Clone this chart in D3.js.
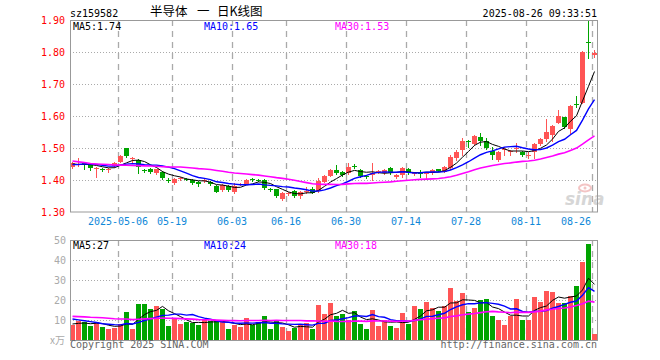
<!DOCTYPE html>
<html>
<head>
<meta charset="utf-8">
<script src="https://cdn.jsdelivr.net/npm/d3@7"></script>
<style>
body { margin: 0; background: #fff; }
text { font-family: "DejaVu Sans Mono", "Liberation Mono", monospace; font-size: 10px; }
</style>
</head>
<body>
<script>
var W = 660, H = 360,
	left = 70, right = 598,
	pTop = 20, pBottom = 212,
	vTop = 240, vBottom = 340;

// trading days shown (MM-DD), 2025
var dates = [
	'04-21','04-22','04-23','04-24','04-25','04-28','04-29','04-30',
	'05-06','05-07','05-08','05-09',
	'05-12','05-13','05-14','05-15','05-16',
	'05-19','05-20','05-21','05-22','05-23',
	'05-26','05-27','05-28','05-29','05-30',
	'06-03','06-04','06-05','06-06',
	'06-09','06-10','06-11','06-12','06-13',
	'06-16','06-17','06-18','06-19','06-20',
	'06-23','06-24','06-25','06-26','06-27',
	'06-30','07-01','07-02','07-03','07-04',
	'07-07','07-08','07-09','07-10','07-11',
	'07-14','07-15','07-16','07-17','07-18',
	'07-21','07-22','07-23','07-24','07-25',
	'07-28','07-29','07-30','07-31','08-01',
	'08-04','08-05','08-06','08-07','08-08',
	'08-11','08-12','08-13','08-14','08-15',
	'08-18','08-19','08-20','08-21','08-22',
	'08-25','08-26'
];

var open = [
	1.440,1.449,1.452,1.447,1.435,1.434,1.432,1.444,
	1.457,1.499,1.466,1.463,
	1.431,1.433,1.423,1.426,1.401,
	1.390,1.404,1.403,1.400,1.395,
	1.397,1.395,1.381,1.368,1.381,
	1.361,1.386,1.388,1.403,
	1.401,1.400,1.372,1.371,1.340,
	1.357,1.366,1.350,1.365,1.371,
	1.366,1.395,1.413,1.431,1.426,
	1.421,1.444,1.431,1.411,1.416,
	1.424,1.423,1.436,1.410,1.416,
	1.433,1.420,1.422,1.419,1.421,
	1.433,1.426,1.436,1.468,1.494,
	1.521,1.512,1.533,1.523,1.492,
	1.462,1.494,1.489,1.497,1.489,
	1.477,1.489,1.512,1.527,1.541,
	1.579,1.596,1.558,1.638,1.642,
	1.831,1.790
];
var high = [
	1.456,1.468,1.455,1.450,1.440,1.437,1.437,1.455,
	1.477,1.501,1.471,1.466,
	1.433,1.436,1.435,1.428,1.405,
	1.405,1.408,1.406,1.402,1.398,
	1.404,1.398,1.383,1.386,1.383,
	1.390,1.390,1.402,1.406,
	1.404,1.402,1.376,1.373,1.362,
	1.362,1.368,1.366,1.379,1.379,
	1.405,1.416,1.434,1.447,1.429,
	1.452,1.449,1.434,1.414,1.452,
	1.430,1.434,1.440,1.418,1.440,
	1.436,1.425,1.431,1.425,1.434,
	1.435,1.445,1.478,1.494,1.530,
	1.525,1.540,1.546,1.530,1.504,
	1.492,1.504,1.494,1.515,1.491,
	1.489,1.515,1.530,1.590,1.572,
	1.619,1.598,1.633,1.662,1.803,
	1.900,1.806
];
var low = [
	1.437,1.444,1.433,1.431,1.410,1.428,1.426,1.442,
	1.455,1.472,1.452,1.423,
	1.424,1.421,1.420,1.403,1.395,
	1.388,1.401,1.399,1.389,1.382,
	1.395,1.383,1.362,1.365,1.367,
	1.359,1.384,1.386,1.398,
	1.396,1.372,1.366,1.348,1.338,
	1.354,1.348,1.343,1.358,1.358,
	1.364,1.393,1.411,1.419,1.414,
	1.419,1.437,1.410,1.406,1.400,
	1.421,1.420,1.419,1.406,1.408,
	1.419,1.416,1.410,1.405,1.419,
	1.427,1.424,1.433,1.462,1.478,
	1.504,1.510,1.509,1.497,1.465,
	1.459,1.478,1.478,1.489,1.476,
	1.468,1.468,1.509,1.523,1.523,
	1.577,1.561,1.546,1.627,1.640,
	1.780,1.785
];
var close = [
	1.452,1.451,1.450,1.437,1.437,1.432,1.434,1.452,
	1.475,1.475,1.469,1.440,
	1.429,1.425,1.433,1.405,1.400,
	1.403,1.406,1.402,1.391,1.386,
	1.401,1.386,1.364,1.384,1.369,
	1.381,1.388,1.400,1.401,
	1.400,1.374,1.370,1.350,1.360,
	1.359,1.350,1.364,1.367,1.360,
	1.397,1.413,1.431,1.421,1.416,
	1.442,1.440,1.413,1.410,1.423,
	1.428,1.431,1.421,1.416,1.436,
	1.421,1.422,1.420,1.423,1.431,
	1.429,1.442,1.473,1.489,1.523,
	1.519,1.537,1.523,1.499,1.478,
	1.489,1.496,1.491,1.499,1.478,
	1.479,1.512,1.527,1.551,1.569,
	1.600,1.567,1.631,1.636,1.801,
	1.829,1.798
];
// volume, x万
var vol = [
	7.5,9.7,8.8,7.2,8.8,6.7,5.5,6,
	8,14,5.5,18,
	18,15.5,17,15.5,7,
	11,8,9,8.5,7.5,
	10.5,9.5,9.5,9.5,5.5,
	7.5,6.5,11,7.5,
	9,12,5.5,9.5,6.5,
	4.5,6,7.5,8.5,5.5,
	17.5,13,18.7,12,13,
	10,14.5,8,5.5,15,
	7,10,7,6,13.5,
	8,17,15.5,19,16,
	14.5,17,26,19.5,23.5,
	14,16,20,20.5,12,
	10,7.5,12,20.5,10,
	10,21.5,19,24.5,24,
	18.5,18.5,22,27,39,
	48,3
];
// sessions before the visible window, only feed the moving averages
var priorClose = [1.53,1.52,1.53,1.47,1.46,1.46,1.50,1.49,1.48,1.49,
	1.46,1.45,1.44,1.45,1.45,1.42,1.41,1.41,1.44,1.44,
	1.45,1.43,1.44,1.45,1.46,1.46,1.45,1.44,1.45];
var priorVol = [13,12,14,12,11,13,12,12,14,16,
	13,12,11,12,12,11,12,12,12,13,
	14,13,12,13,13,8,8,9,7.5];

var priceTicks = [1.30,1.40,1.50,1.60,1.70,1.80,1.90];
var volTicks = [10,20,30,40,50];
var tickDates = ['05-06','05-19','06-03','06-16','06-30','07-14','07-28','08-11','08-26'];
var tickLabels = ['2025-05-06','05-19','06-03','06-16','06-30','07-14','07-28','08-11','08-26'];
var maPeriods = [5,10,30];
var maColors = ['#000000','#0000ff','#ff00ff'];
var maLabels = ['MA5:1.74','MA10:1.65','MA30:1.53'];
var volMaLabels = ['MA5:27','MA10:24','MA30:18'];

var red = '#ff5555', green = '#00a400';

var svg = d3.select('body').append('svg')
	.attr('width', W)
	.attr('height', H);

var x = d3.scaleBand().domain(dates).range([left, right]);
var y = d3.scaleLinear().domain([1.30, 1.90]).range([pBottom, pTop]);
var yv = d3.scaleLinear().domain([0, 50]).range([vBottom, vTop]);

function px(v) { return Math.round(v) + 0.5 }
function isUp(i) { return close[i] >= open[i] }

// grid
svg.selectAll('.hg')
	.data(priceTicks.slice(1, -1))
	.enter().append('line')
	.attr('x1', left).attr('x2', right - 1)
	.attr('y1', function(d) { return px(y(d)) })
	.attr('y2', function(d) { return px(y(d)) })
	.style('stroke', '#aaa').style('stroke-dasharray', '1,2');

svg.selectAll('.hgv')
	.data(volTicks.slice(0, -1))
	.enter().append('line')
	.attr('x1', left).attr('x2', right - 1)
	.attr('y1', function(d) { return px(yv(d)) })
	.attr('y2', function(d) { return px(yv(d)) })
	.style('stroke', '#aaa').style('stroke-dasharray', '1,2');

[[pTop, pBottom], [vTop, vBottom]].forEach(function(r) {
	svg.selectAll(null)
		.data(tickDates)
		.enter().append('line')
		.attr('x1', function(d) { return x(d) + 0.5 })
		.attr('x2', function(d) { return x(d) + 0.5 })
		.attr('y1', r[0]).attr('y2', r[1])
		.style('stroke', '#aaa').style('stroke-width', 1.3).style('stroke-dasharray', '6,5');
});

// sina watermark
var wm = svg.append('g');
wm.append('ellipse').attr('cx', 585).attr('cy', 188).attr('rx', 6).attr('ry', 3.5)
	.style('fill', 'none').style('stroke', '#f3c4c4').style('stroke-width', 2);
wm.append('circle').attr('cx', 585).attr('cy', 188).attr('r', 1.5).style('fill', '#f3c4c4');
wm.append('text').attr('x', 565).attr('y', 205)
	.style('font-family', '"DejaVu Sans", sans-serif')
	.style('font-size', '17px').style('font-weight', 'bold').style('font-style', 'italic')
	.style('fill', '#d6d6d6').text('sina');

// candles
var idx = d3.range(dates.length);
svg.selectAll('.wick')
	.data(idx)
	.enter().append('line')
	.attr('x1', function(i) { return x(dates[i]) + 2.5 })
	.attr('x2', function(i) { return x(dates[i]) + 2.5 })
	.attr('y1', function(i) { return Math.round(y(high[i])) })
	.attr('y2', function(i) { return Math.round(y(low[i])) + 1 })
	.style('stroke', function(i) { return isUp(i) ? red : green });

svg.selectAll('.body')
	.data(idx)
	.enter().append('rect')
	.attr('x', function(i) { return x(dates[i]) })
	.attr('width', 5)
	.attr('y', function(i) { return Math.round(y(Math.max(open[i], close[i]))) })
	.attr('height', function(i) {
		return Math.max(1, Math.round(y(Math.min(open[i], close[i]))) - Math.round(y(Math.max(open[i], close[i]))))
	})
	.style('fill', function(i) { return isUp(i) ? red : green });

// volume bars
svg.selectAll('.vbar')
	.data(idx)
	.enter().append('rect')
	.attr('x', function(i) { return x(dates[i]) })
	.attr('width', 5)
	.attr('y', function(i) { return Math.round(yv(vol[i])) })
	.attr('height', function(i) { return vBottom - Math.round(yv(vol[i])) + 1 })
	.style('fill', function(i) { return isUp(i) ? red : green });

// moving averages
function movingAvg(prior, vals, n) {
	var all = prior.concat(vals);
	return vals.map(function(v, i) {
		var j = i + prior.length;
		return d3.mean(all.slice(j - n + 1, j + 1));
	});
}

maPeriods.forEach(function(n, m) {
	var pm = movingAvg(priorClose, close, n);
	var vm = movingAvg(priorVol, vol, n);
	var w = [1, 1.4, 1.6][m];
	svg.append('path')
		.datum(pm)
		.attr('d', d3.line()
			.x(function(d, i) { return x(dates[i]) + 2.5 })
			.y(function(d) { return y(d) }))
		.style('fill', 'none').style('stroke', maColors[m]).style('stroke-width', w);
	svg.append('path')
		.datum(vm)
		.attr('d', d3.line()
			.x(function(d, i) { return x(dates[i]) + 2.5 })
			.y(function(d) { return yv(d) }))
		.style('fill', 'none').style('stroke', maColors[m]).style('stroke-width', w);
});

// frames
svg.append('rect').attr('x', left + 0.5).attr('y', pTop + 0.5)
	.attr('width', right - left - 1).attr('height', pBottom - pTop - 0.5)
	.style('fill', 'none').style('stroke', '#999');
svg.append('rect').attr('x', left + 0.5).attr('y', vTop + 0.5)
	.attr('width', right - left - 1).attr('height', vBottom - vTop)
	.style('fill', 'none').style('stroke', '#999');

// axis labels
svg.selectAll('.py')
	.data(priceTicks)
	.enter().append('text')
	.attr('x', 65).attr('y', function(d) { return y(d) + 4 })
	.attr('text-anchor', 'end')
	.style('fill', '#ff0000')
	.text(function(d) { return d3.format('.2f')(d) });

svg.selectAll('.vy')
	.data(volTicks)
	.enter().append('text')
	.attr('x', 66).attr('y', function(d) { return yv(d) + 4 })
	.attr('text-anchor', 'end')
	.style('fill', '#aaa')
	.text(function(d) { return d });

svg.append('text').attr('x', 50).attr('y', 344)
	.style('fill', '#aaa')
	.style('font-family', '"Noto Sans CJK SC", sans-serif')
	.text('x万');

svg.selectAll('.xl')
	.data(tickDates)
	.enter().append('text')
	.attr('x', function(d, i) { return i == tickDates.length - 1 ? x(d) - 1 : x(d) })
	.attr('y', 225)
	.attr('text-anchor', function(d, i) { return i == tickDates.length - 1 ? 'end' : 'middle' })
	.style('fill', '#1088d8')
	.text(function(d, i) { return tickLabels[i] });

// MA legends
var legX = [73, 204, 335];
svg.selectAll('.leg')
	.data(maLabels)
	.enter().append('text')
	.attr('x', function(d, i) { return legX[i] })
	.attr('y', 30)
	.style('fill', function(d, i) { return maColors[i] })
	.text(function(d) { return d });
svg.selectAll('.vleg')
	.data(volMaLabels)
	.enter().append('text')
	.attr('x', function(d, i) { return legX[i] })
	.attr('y', 249)
	.style('fill', function(d, i) { return maColors[i] })
	.text(function(d) { return d });

// header
svg.append('text').attr('x', 70).attr('y', 17).text('sz159582');
var cjk = [['半导体', 150], ['一', 197], ['日K线图', 217]];
cjk.forEach(function(c) {
	svg.append('text').attr('x', c[1]).attr('y', 16)
		.style('font-family', '"Noto Sans CJK SC", sans-serif')
		.style('font-size', '12.5px')
		.text(c[0]);
});
svg.append('text').attr('x', 597).attr('y', 17).attr('text-anchor', 'end')
	.text('2025-08-26 09:33:51');

// footer
svg.append('text').attr('x', 70).attr('y', 348).style('fill', '#666')
	.text('Copyright 2025 SINA.COM');
svg.append('text').attr('x', 597).attr('y', 348).attr('text-anchor', 'end').style('fill', '#666')
	.text('http://finance.sina.com.cn');
</script>
</body>
</html>
